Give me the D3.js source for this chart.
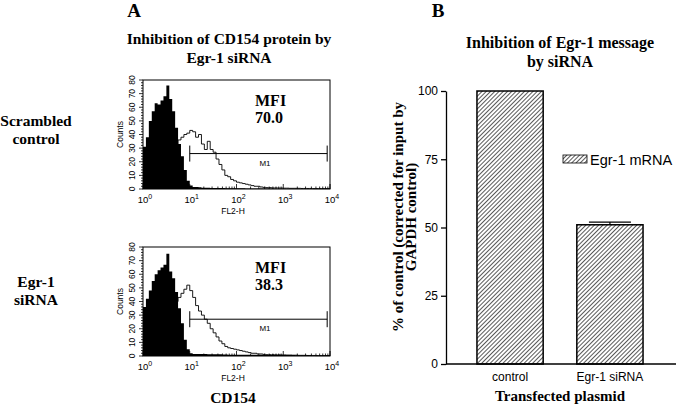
<!DOCTYPE html>
<html><head><meta charset="utf-8">
<script src="https://cdn.jsdelivr.net/npm/d3@7"></script>
<style>body{margin:0;background:#fff}svg{display:block}</style>
</head><body>
<script>
// ---------- Panel A data (flow cytometry histograms, 16 bins per decade, 10^0..10^4) ----------
const binsPerDecade = 16;
const scrambledIsotype = [31,38,50,57,63,62,65,68,76,66,57,45,33,24,14,6,
  2.5,1.5,1.5,1.2,1,1,1,0.8,0.8,0.8,0.7,0.7,0.6,0.6,0.6,0.5,
  0.5,0.5,0.5,0.4,0.4,0.4,0.4,0.3,0.3,0.3,0.3,0.3,0.3,0.2,0.2,0.2,
  0.2,0.2,0.2,0.2,0.2,0.2,0.2,0.2,0.2,0.2,0.2,0.2,0.2,0.2,0.2,0.2];
const scrambledStained = [2,3,4,6,8,10,13,16,18,20,24,28,36,38,40,41,
  43,42,38,40,33,29,35,29,27,22,18,14,10,9,7,6,
  5,4.5,4,3.5,3,2.5,2,2,1.5,1.2,1,1,0.8,0.8,0.7,0.7,
  0.6,0.6,0.5,0.5,0.5,0.5,0.4,0.4,0.4,0.4,0.3,0.3,0.3,0.3,0.3,0.3];
const sirnaIsotype = [36,42,48,55,60,63,65,67,75,62,57,47,35,24,12,5,
  2,1.5,1.5,1.5,1.4,1.4,1.3,1.3,1.2,1.2,1.2,1.1,1.1,1,1,1,
  1,1,1,1,1,0.9,0.9,0.9,0.9,0.9,0.8,0.8,0.8,0.8,0.8,0.8,
  0.7,0.7,0.7,0.7,0.6,0.6,0.6,0.5,0.5,0.5,0.4,0.4,0.4,0.3,0.3,0.3];
const sirnaStained = [2,3,5,7,9,12,15,18,22,26,32,40,43,46,49,52,
  48,43,37,33,30,27,24,20,17,14,11,9,7,6,5.5,5,
  4.5,4,3.5,3,2.5,2,2,1.5,1.5,1.2,1,1,1,0.9,0.9,0.8,
  0.8,0.7,0.7,0.6,0.6,0.5,0.5,0.5,0.4,0.4,0.4,0.3,0.3,0.3,0.3,0.3];
const rowLabels = [["Scrambled","control"],["Egr-1","siRNA"]];
const mfiValues = ["70.0","38.3"];
const m1Range = [10, 8700];
const m1Levels = [26, 27];
const countTicks = [0,10,20,30,40,50,60,70,80];
const decadeExponents = [0,1,2,3,4];

// ---------- Panel B data ----------
const barCategories = ["control","Egr-1 siRNA"];
const barValues = [100, 51];
const barErrors = [0, 1];
const barTicks = [0,25,50,75,100];
const legendLabel = "Egr-1 mRNA";

const SERIF = "'Liberation Serif','Times New Roman',serif";
const SANS = "'Liberation Sans',Arial,sans-serif";

const svg = d3.select("body").append("svg").attr("width",676).attr("height",407);
const defs = svg.append("defs");
const pat = defs.append("pattern").attr("id","hatch").attr("patternUnits","userSpaceOnUse")
  .attr("width",3).attr("height",3).attr("patternTransform","rotate(45)");
pat.append("rect").attr("width",3).attr("height",3).attr("fill","#fff");
pat.append("line").attr("x1",0.5).attr("y1",0).attr("x2",0.5).attr("y2",3)
  .attr("stroke","#222").attr("stroke-width",0.75);

// ---------- Panel A ----------
svg.append("text").attr("x",134).attr("y",17).attr("text-anchor","middle")
  .attr("font-family",SERIF).attr("font-weight","bold").attr("font-size",19).text("A");
const titleA = svg.append("text").attr("text-anchor","middle").attr("font-family",SERIF)
  .attr("font-weight","bold").attr("font-size",15.5);
titleA.append("tspan").attr("x",229).attr("y",44).text("Inhibition of CD154 protein by");
titleA.append("tspan").attr("x",229).attr("y",63).text("Egr-1 siRNA");

const histTops = [80, 247];
const histData = [[scrambledIsotype, scrambledStained],[sirnaIsotype, sirnaStained]];
const plotH = 109;
const x = d3.scaleLog().domain([1,1e4]).range([143,330]);

histData.forEach(([iso, stained], k) => {
  const top = histTops[k];
  const y = d3.scaleLinear().domain([0,80]).range([top+plotH, top]);
  const g = svg.append("g");
  const pts = arr => arr.map((v,i)=>({x: Math.pow(10, i/binsPerDecade), v}))
    .concat([{x: 1e4, v: arr[arr.length-1]}]);
  const area = d3.area().x(d=>x(d.x)).y0(y(0)).y1(d=>y(Math.min(d.v,80))).curve(d3.curveStepAfter);
  const line = d3.line().x(d=>x(d.x)).y(d=>y(Math.min(d.v,80))).curve(d3.curveStepAfter);
  g.append("path").attr("d",line(pts(stained))).attr("fill","none").attr("stroke","#000").attr("stroke-width",0.9);
  g.append("path").attr("d",area(pts(iso))).attr("fill","#000");
  // frame
  g.append("rect").attr("x",x(1)).attr("y",top).attr("width",x(1e4)-x(1)).attr("height",plotH)
    .attr("fill","none").attr("stroke","#000").attr("stroke-width",1);
  // y ticks
  d3.range(0,81,2).forEach(c=>{
    const major = c%10===0;
    g.append("line").attr("x1",x(1)-(major?4:2)).attr("x2",x(1)).attr("y1",y(c)).attr("y2",y(c))
      .attr("stroke","#000").attr("stroke-width",0.8);
  });
  countTicks.forEach(c=>{
    g.append("text").attr("transform",`translate(${x(1)-8},${y(c)}) rotate(-90)`)
      .attr("text-anchor","middle").attr("font-family",SANS).attr("font-size",8.5).text(c);
  });
  g.append("text").attr("transform",`translate(${x(1)-20},${top+plotH/2}) rotate(-90)`)
    .attr("text-anchor","middle").attr("font-family",SANS).attr("font-size",8.5).text("Counts");
  // x ticks
  for (let d=0; d<4; d++) for (let m=1; m<10; m++) {
    const v = m*Math.pow(10,d);
    g.append("line").attr("x1",x(v)).attr("x2",x(v)).attr("y1",y(0)).attr("y2",y(0)-(m===1?5:2.5))
      .attr("stroke","#000").attr("stroke-width",0.8);
  }
  g.append("line").attr("x1",x(1e4)).attr("x2",x(1e4)).attr("y1",y(0)).attr("y2",y(0)-5).attr("stroke","#000");
  decadeExponents.forEach(e=>{
    const t = g.append("text").attr("x",x(Math.pow(10,e))+2).attr("y",y(0)+14)
      .attr("text-anchor","middle").attr("font-family",SANS).attr("font-size",9.5);
    t.append("tspan").text("10");
    t.append("tspan").attr("dy",-4).attr("font-size",7).text(e);
  });
  g.append("text").attr("x",233).attr("y",y(0)+25).attr("text-anchor","middle")
    .attr("font-family",SANS).attr("font-size",8.5).text("FL2-H");
  // M1 marker
  const my = y(m1Levels[k]);
  g.append("line").attr("x1",x(m1Range[0])).attr("x2",x(m1Range[1])).attr("y1",my).attr("y2",my).attr("stroke","#000");
  m1Range.forEach(v=>g.append("line").attr("x1",x(v)).attr("x2",x(v)).attr("y1",my-8).attr("y2",my+8).attr("stroke","#000"));
  g.append("text").attr("x",265).attr("y",my+12).attr("text-anchor","middle")
    .attr("font-family",SANS).attr("font-size",8).text("M1");
  // MFI
  g.append("text").attr("x",255).attr("y",top+26).attr("font-family",SERIF).attr("font-weight","bold")
    .attr("font-size",16).text("MFI");
  g.append("text").attr("x",255).attr("y",top+43).attr("font-family",SERIF).attr("font-weight","bold")
    .attr("font-size",16).text(mfiValues[k]);
  // row label
  const rl = svg.append("text").attr("text-anchor","middle").attr("font-family",SERIF)
    .attr("font-weight","bold").attr("font-size",15.5);
  const base = k===0 ? 126 : 287;
  rowLabels[k].forEach((s,i)=>rl.append("tspan").attr("x",36).attr("y",base+i*18).text(s));
});
svg.append("text").attr("x",233).attr("y",403).attr("text-anchor","middle").attr("font-family",SERIF)
  .attr("font-weight","bold").attr("font-size",15.5).text("CD154");

// ---------- Panel B ----------
svg.append("text").attr("x",438).attr("y",17).attr("text-anchor","middle")
  .attr("font-family",SERIF).attr("font-weight","bold").attr("font-size",19).text("B");
const titleB = svg.append("text").attr("text-anchor","middle").attr("font-family",SERIF)
  .attr("font-weight","bold").attr("font-size",16);
titleB.append("tspan").attr("x",560).attr("y",48).text("Inhibition of Egr-1 message");
titleB.append("tspan").attr("x",560).attr("y",67).text("by siRNA");

const yB = d3.scaleLinear().domain([0,100]).range([364,91]);
const xB = d3.scaleBand().domain(barCategories).range([446,674]).paddingInner(0.337).paddingOuter(0.31);
const gB = svg.append("g");
gB.selectAll("rect.bar").data(barValues).join("rect").attr("class","bar")
  .attr("x",(d,i)=>xB(barCategories[i])).attr("y",d=>yB(d))
  .attr("width",xB.bandwidth()).attr("height",d=>yB(0)-yB(d))
  .attr("fill","url(#hatch)").attr("stroke","#000").attr("stroke-width",1.5);
barValues.forEach((v,i)=>{
  if (!barErrors[i]) return;
  const cx = xB(barCategories[i]) + xB.bandwidth()/2;
  gB.append("line").attr("x1",cx).attr("x2",cx).attr("y1",yB(v)).attr("y2",yB(v+barErrors[i])).attr("stroke","#000").attr("stroke-width",1.2);
  gB.append("line").attr("x1",cx-21).attr("x2",cx+21).attr("y1",yB(v+barErrors[i])).attr("y2",yB(v+barErrors[i])).attr("stroke","#000").attr("stroke-width",1.2);
});
const yAx = gB.append("g").attr("transform","translate(446,0)")
  .call(d3.axisLeft(yB).tickValues(barTicks).tickSize(5).tickSizeOuter(0).tickPadding(3));
yAx.selectAll("text").attr("font-family",SANS).attr("font-size",12).attr("fill","#000");
yAx.selectAll("path,line").attr("stroke","#000").attr("stroke-width",1.3);
gB.append("line").attr("x1",446).attr("x2",676).attr("y1",yB(0)).attr("y2",yB(0)).attr("stroke","#000").attr("stroke-width",1.3);
barCategories.forEach(c=>{
  gB.append("text").attr("x",xB(c)+xB.bandwidth()/2).attr("y",381).attr("text-anchor","middle")
    .attr("font-family",SANS).attr("font-size",12).text(c);
});
svg.append("text").attr("x",560).attr("y",401).attr("text-anchor","middle").attr("font-family",SERIF)
  .attr("font-weight","bold").attr("font-size",15).text("Transfected plasmid");
const yl = svg.append("text").attr("transform","translate(0,217) rotate(-90)").attr("text-anchor","middle")
  .attr("font-family",SERIF).attr("font-weight","bold").attr("font-size",15);
yl.append("tspan").attr("x",0).attr("y",403).text("% of control (corrected for input by");
yl.append("tspan").attr("x",0).attr("y",416).text("GAPDH control)");
// legend
svg.append("rect").attr("x",563).attr("y",155).attr("width",24).attr("height",8)
  .attr("fill","url(#hatch)").attr("stroke","#000").attr("stroke-width",0.8);
svg.append("text").attr("x",590).attr("y",164.5).attr("font-family",SANS).attr("font-size",14.5).text(legendLabel);
</script>
</body></html>
